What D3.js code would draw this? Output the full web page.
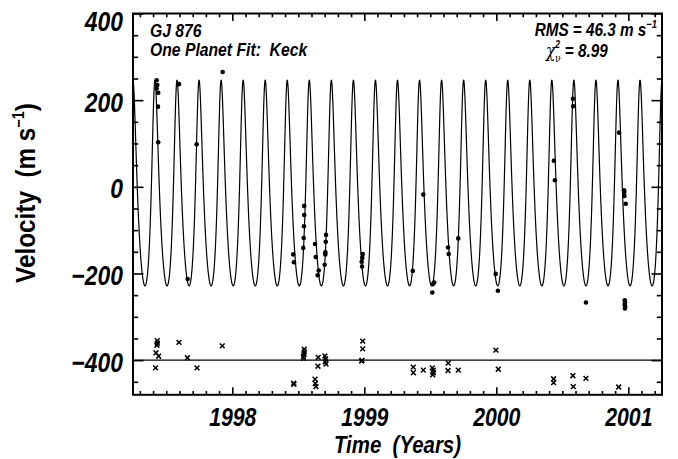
<!DOCTYPE html>
<html><head><meta charset="utf-8">
<script src="https://cdn.jsdelivr.net/npm/d3@7"></script>
<style>
body{margin:0;background:#fff}
svg{display:block}
text{font-family:"Liberation Sans",Arial,Helvetica,sans-serif;}
</style>
</head><body>
<svg id="chart" width="678" height="459"></svg>
<script>
// ---------- data ----------
const yearTicks = [1998, 1999, 2000, 2001];
const velTicks = [-400, -200, 0, 200, 400];
const xDomain = [1997.248, 2001.255];
const yDomain = [-480, 400];

// observed velocities (m/s) vs time (years)
const dotTimes = [1997.427,1997.432,1997.427,1997.439,1997.437,1997.439,1997.596,1997.662,1997.730,1997.927,
  1998.462,1998.467,1998.545,1998.545,1998.543,1998.541,1998.538,1998.627,1998.632,1998.655,1998.647,
  1998.710,1998.708,1998.705,1998.705,1998.700,1998.988,1998.985,1998.980,1998.983,
  1999.367,1999.447,1999.518,1999.530,1999.515,1999.634,1999.639,1999.712,1999.995,2000.012,
  2000.436,2000.444,2000.580,2000.583,2000.679,2000.930,2000.967,2000.970,2000.970,2000.980,
  2000.973,2000.975,2000.972,2000.976,2000.974];
const dotVels = [246,235,227,217,185,103,237,-213,98,265,
  -156,-174,-44,-65,-91,-118,-141,-132,-162,-193,-204,
  -111,-127,-151,-156,-180,-155,-164,-173,-184,
  -194,-18,-225,-221,-244,-140,-155,-119,-201,-240,
  60,15,203,186,-267,125,-8,-12,-21,-39,
  -262,-267,-272,-276,-281];

// residuals (m/s), plotted offset by -400
const resTimes = [1997.432,1997.432,1997.429,1997.422,1997.442,1997.419,1997.596,1997.660,1997.733,1997.924,
  1998.465,1998.467,1998.545,1998.545,1998.543,1998.538,1998.541,1998.627,1998.629,1998.634,1998.651,1998.649,
  1998.702,1998.707,1998.704,1998.710,1998.988,1998.988,1998.983,1998.980,
  1999.371,1999.371,1999.447,1999.515,1999.523,1999.523,1999.518,1999.636,1999.634,1999.712,
  1999.997,2000.015,2000.434,2000.434,2000.580,2000.583,2000.679,2000.927];
const resVals = [45,39,34,17,9,-18,41,5.5,-18,33,
  -53,-56,25,19,14,8,4,-44,-54,-61,6.5,-14,
  9.5,2.5,-4,-9,44,26,-0.5,-2,
  -16,-29,-23,-18,-23,-29,-34,-7,-24,-23,
  23,-21,-43,-52,-36,-61,-42,-62];
const resOffset = -400;

// one-planet Keplerian fit parameters
const fitPeriodDays = [61.0];
const fitK = [237.25];
const fitEcc = [0.25];
const fitOmegaDeg = [-17];
const fitTperi = [1997.4098];
const fitGamma = [-47.97];

// ---------- layout ----------
const L = 133, R = 662, T = 13.5, B = 394.8;
const SX = 0.85;
const svg = d3.select("#chart");

const x = d3.scaleLinear().domain(xDomain).range([L, R]);
const y = d3.scaleLinear().domain(yDomain).range([B, T]);

const fmt = d => d < 0 ? "\u2212" + Math.abs(d) : String(d);

function squeeze(sel) {
  sel.each(function () {
    const t = d3.select(this);
    const x0 = +t.attr("x") || 0;
    t.attr("x", x0 / SX).attr("transform", `scale(${SX},1)`);
  });
}
function styleAxis(g, sw) {
  g.select(".domain").remove();
  g.selectAll(".tick line").attr("stroke", "#000").attr("stroke-width", sw);
}

const yearMinor = d3.range(1997.3, 2001.3, 0.1).filter(v => Math.abs(v - Math.round(v)) > 0.01 && v <= xDomain[1]);
const velMinor = d3.range(-450, 401, 50).filter(v => v % 200 !== 0);

// ---------- fit curve ----------
function kepler(t) {
  const P = fitPeriodDays[0] / 365.25, e = fitEcc[0], w = fitOmegaDeg[0] * Math.PI / 180;
  let M = 2 * Math.PI * ((t - fitTperi[0]) / P);
  M = M - 2 * Math.PI * Math.floor(M / (2 * Math.PI));
  let E = M;
  for (let i = 0; i < 30; i++) E = E - (E - e * Math.sin(E) - M) / (1 - e * Math.cos(E));
  const nu = 2 * Math.atan2(Math.sqrt(1 + e) * Math.sin(E / 2), Math.sqrt(1 - e) * Math.cos(E / 2));
  return fitGamma[0] + fitK[0] * (Math.cos(nu + w) + e * Math.cos(w));
}
const curveT = d3.range(xDomain[0], xDomain[1], 0.0004);

svg.append("clipPath").attr("id", "clip").append("rect")
  .attr("x", L).attr("y", T).attr("width", R - L).attr("height", B - T);

const plot = svg.append("g").attr("clip-path", "url(#clip)");
plot.append("path")
  .attr("d", d3.line().x(t => x(t)).y(t => y(kepler(t)))(curveT))
  .attr("fill", "none").attr("stroke", "#000").attr("stroke-width", 1.2);

plot.append("line")
  .attr("x1", L).attr("x2", R).attr("y1", y(resOffset)).attr("y2", y(resOffset))
  .attr("stroke", "#000").attr("stroke-width", 1.2);

plot.selectAll("circle.d").data(dotTimes).join("circle")
  .attr("cx", (d) => x(d)).attr("cy", (d, i) => y(dotVels[i]))
  .attr("r", 2.3).attr("fill", "#000");

plot.selectAll("path.r").data(resTimes).join("path")
  .attr("transform", (d, i) => `translate(${x(d)},${y(resVals[i] + resOffset)})`)
  .attr("d", "M-2.4,-2.4L2.4,2.4M-2.4,2.4L2.4,-2.4")
  .attr("stroke", "#000").attr("stroke-width", 1.5).attr("fill", "none");

// ---------- axes ----------
const gl = svg.append("g").attr("transform", `translate(${L},0)`)
  .call(d3.axisLeft(y).tickValues(velTicks).tickSizeInner(-10.5).tickSizeOuter(0).tickPadding(10).tickFormat(fmt));
styleAxis(gl, 1.6);
gl.selectAll("text").attr("font-size", 27).attr("font-weight", "bold").attr("font-style", "italic")
  .attr("font-family", "Liberation Sans, Arial, sans-serif").attr("fill", "#000")
  .attr("dy", d => d === yDomain[1] ? "0.62em" : "0.41em");
squeeze(gl.selectAll("text"));
styleAxis(svg.append("g").attr("transform", `translate(${L},0)`)
  .call(d3.axisLeft(y).tickValues(velMinor).tickSize(-5.2).tickFormat("")), 1.6);
styleAxis(svg.append("g").attr("transform", `translate(${R},0)`)
  .call(d3.axisRight(y).tickValues(velTicks).tickSize(-10.5).tickFormat("")), 1.6);
styleAxis(svg.append("g").attr("transform", `translate(${R},0)`)
  .call(d3.axisRight(y).tickValues(velMinor).tickSize(-5.2).tickFormat("")), 1.6);

const gb = svg.append("g").attr("transform", `translate(0,${B})`)
  .call(d3.axisBottom(x).tickValues(yearTicks).tickSizeInner(-7.5).tickSizeOuter(0).tickFormat(d3.format("d")));
styleAxis(gb, 1.6);
gb.selectAll("text").attr("font-size", 25).attr("font-weight", "bold").attr("font-style", "italic")
  .attr("font-family", "Liberation Sans, Arial, sans-serif").attr("fill", "#000")
  .attr("y", 31).attr("dy", 0);
squeeze(gb.selectAll("text"));
styleAxis(svg.append("g").attr("transform", `translate(0,${B})`)
  .call(d3.axisBottom(x).tickValues(yearMinor).tickSize(-3.8).tickFormat("")), 1.6);
styleAxis(svg.append("g").attr("transform", `translate(0,${T})`)
  .call(d3.axisTop(x).tickValues(yearTicks).tickSize(-7.5).tickFormat("")), 1.6);
styleAxis(svg.append("g").attr("transform", `translate(0,${T})`)
  .call(d3.axisTop(x).tickValues(yearMinor).tickSize(-3.8).tickFormat("")), 1.6);

svg.append("rect").attr("x", L).attr("y", T).attr("width", R - L).attr("height", B - T)
  .attr("fill", "none").attr("stroke", "#000").attr("stroke-width", 2);

// ---------- titles ----------
function label(xp, yp, anchor, build, rot) {
  const g = svg.append("g").attr("transform", `translate(${xp},${yp})` + (rot ? ` rotate(${rot})` : ""));
  const t = g.append("text").attr("text-anchor", anchor).attr("transform", `scale(${SX},1)`)
    .attr("fill", "#000").style("white-space", "pre");
  build(t);
  return t;
}

label((L + R) / 2, 453, "middle", t => {
  t.attr("font-size", 24).attr("font-weight", "bold").attr("font-style", "italic").text("Time  (Years)");
});

label(35, 193, "middle", t => {
  t.attr("font-size", 27).attr("font-weight", "bold").attr("transform", "scale(0.9,1)");
  t.append("tspan").text("Velocity  (m s");
  t.append("tspan").attr("font-size", 16).attr("dy", -11).text("\u22121");
  t.append("tspan").attr("dy", 11).text(")");
}, -90);

label(150, 36.5, "start", t => {
  t.attr("font-size", 18.5).attr("font-weight", "bold").attr("font-style", "italic").text("GJ 876");
});
label(150, 56, "start", t => {
  t.attr("font-size", 18.5).attr("font-weight", "bold").attr("font-style", "italic").text("One Planet Fit:  Keck");
});

label(657, 36, "end", t => {
  t.attr("font-size", 18).attr("font-weight", "bold").attr("font-style", "italic");
  t.append("tspan").text("RMS = 46.3 m s");
  t.append("tspan").attr("font-size", 11).attr("dy", -8).text("\u22121");
});

label(546, 56.5, "start", t => {
  t.attr("font-size", 18).attr("font-weight", "bold").attr("font-style", "italic");
  t.append("tspan").attr("font-weight", "normal").attr("font-family", "DejaVu Serif, serif").attr("font-size", 18).text("\u03c7");
  t.append("tspan").attr("font-size", 10).attr("dy", -9).text("2");
  t.append("tspan").attr("font-size", 11).attr("font-weight", "normal").attr("font-style", "normal")
    .attr("font-family", "DejaVu Serif, serif").attr("dx", -6).attr("dy", 14).text("\u03bd");
  t.append("tspan").attr("dy", -5).text(" = 8.99");
});
</script>
</body></html>
